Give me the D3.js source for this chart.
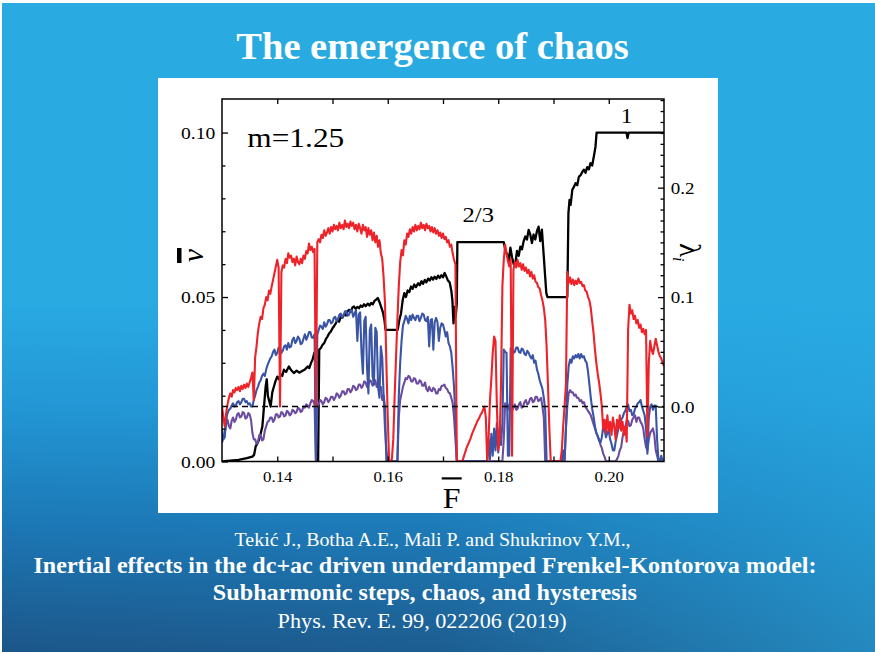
<!DOCTYPE html>
<html>
<head>
<meta charset="utf-8">
<script src="https://cdn.jsdelivr.net/npm/d3@7"></script>
<style>
  html, body { margin: 0; padding: 0; background: #fff; }
  svg { display: block; }
</style>
</head>
<body>
<svg id="slide" width="875" height="653"></svg>
<script>
// ---- data -------------------------------------------------------------
// Lyapunov exponents sampled on a uniform grid of the dc force F (0.130 … 0.210)
const F_START = 0.130;
const F_STEP = 0.00025;

const lambdaRed = [
  0.000, -0.010, -0.018, -0.006, 0.002, 0.008, 0.012, 0.009, 0.015, 0.013,
  0.017, 0.015, 0.018, 0.014, 0.019, 0.016, 0.020, 0.017, 0.021, 0.018,
  0.022, 0.026, 0.031, 0.006, 0.045, 0.055, 0.068, 0.076, 0.082, 0.080,
  0.090, 0.093, 0.100, 0.097, 0.106, 0.103, 0.110, 0.116, 0.122, 0.128,
  0.134, 0.127, 0.000, 0.123, 0.129, 0.127, 0.135, 0.131, 0.140, 0.136,
  0.138, 0.132, 0.135, 0.129, 0.137, 0.132, 0.130, 0.135, 0.131, 0.138,
  0.135, 0.142, 0.140, 0.149, 0.143, 0.146, 0.141, 0.144, 0.000, 0.150,
  0.153, 0.150, 0.157, 0.154, 0.161, 0.156, 0.159, 0.163, 0.158, 0.164,
  0.160, 0.166, 0.162, 0.165, 0.161, 0.168, 0.163, 0.166, 0.162, 0.170,
  0.164, 0.167, 0.163, 0.169, 0.165, 0.168, 0.162, 0.166, 0.160, 0.167,
  0.163, 0.158, 0.166, 0.161, 0.164, 0.155, 0.163, 0.157, 0.161, 0.152,
  0.159, 0.150, 0.156, 0.146, 0.152, 0.140, 0.135, 0.118, 0.095, 0.040,
  -0.010, -0.050, -0.050, -0.048, -0.030, 0.010, 0.045, 0.080, 0.110, 0.132,
  0.143, 0.138, 0.152, 0.148, 0.158, 0.155, 0.162, 0.158, 0.164, 0.160,
  0.166, 0.161, 0.165, 0.162, 0.168, 0.163, 0.166, 0.161, 0.167, 0.163,
  0.165, 0.160, 0.164, 0.159, 0.163, 0.158, 0.161, 0.156, 0.159, 0.154,
  0.158, 0.153, 0.155, 0.150, 0.152, 0.146, 0.148, 0.140, 0.134, 0.130,
  -0.050, -0.050, -0.050, -0.050, -0.050, -0.046, -0.042, -0.038, -0.035, -0.032,
  -0.029, -0.025, -0.022, -0.019, -0.016, -0.013, -0.011, -0.008, -0.006, -0.003,
  0.000, -0.010, -0.050, -0.030, 0.006, 0.025, 0.049, 0.064, 0.060, 0.000,
  -0.040, -0.030, 0.020, 0.110, 0.134, 0.148, 0.140, 0.133, 0.128, 0.135,
  -0.045, 0.125, 0.132, 0.127, 0.134, 0.128, 0.131, 0.125, 0.130, 0.124,
  0.127, 0.122, 0.125, 0.119, 0.123, 0.117, 0.120, 0.114, 0.113, 0.109,
  0.108, 0.102, 0.097, 0.090, 0.079, 0.055, 0.020, -0.020, -0.050, -0.050,
  -0.050, -0.050, -0.050, -0.050, -0.050, -0.050, -0.040, -0.018, 0.000, 0.020,
  0.123, 0.113, 0.118, 0.112, 0.116, 0.111, 0.115, 0.112, 0.117, 0.113,
  0.114, 0.110, 0.111, 0.106, 0.105, 0.100, 0.097, 0.090, 0.078, 0.067,
  0.052, 0.040, 0.030, 0.022, 0.012, 0.000, -0.021, -0.012, -0.024, -0.008,
  -0.022, -0.014, -0.026, -0.010, -0.018, -0.030, -0.012, -0.020, -0.008, -0.022,
  -0.014, -0.026, -0.018, -0.032, 0.070, 0.093, 0.085, 0.088, 0.080, 0.083,
  0.076, 0.079, 0.072, 0.075, 0.068, 0.071, 0.066, 0.070, -0.027, 0.040,
  0.060, 0.052, 0.048, 0.055, 0.062, 0.056, 0.050, 0.046, 0.044, 0.040,
  0.037
];

const lambdaBlue = [
  -0.020, -0.030, -0.028, -0.012, -0.006, -0.003, -0.002, 0.001, 0.003, 0.000,
  0.001, 0.004, 0.005, 0.002, 0.004, 0.007, 0.007, 0.004, 0.005, 0.002,
  0.003, 0.000, 0.000, 0.006, 0.010, 0.015, 0.018, 0.022, 0.024, 0.028,
  0.030, 0.028, 0.034, 0.038, 0.041, 0.044, 0.046, 0.050, 0.052, 0.047,
  0.049, 0.054, 0.053, 0.049, 0.051, 0.055, 0.056, 0.052, 0.058, 0.054,
  0.055, 0.061, 0.063, 0.058, 0.060, 0.064, 0.062, 0.057, 0.058, 0.062,
  0.066, 0.061, 0.064, 0.068, 0.068, 0.063, 0.063, 0.066, -0.049, 0.066,
  0.070, 0.074, 0.073, 0.071, 0.077, 0.073, 0.075, 0.079, 0.079, 0.076,
  0.077, 0.081, 0.082, 0.078, 0.080, 0.084, 0.085, 0.081, 0.083, 0.087,
  0.087, 0.083, 0.084, 0.088, 0.088, 0.082, 0.085, 0.088, 0.060, 0.084,
  0.086, 0.050, 0.030, 0.078, 0.082, 0.035, 0.012, 0.070, 0.075, 0.028,
  0.020, 0.072, 0.068, 0.018, 0.008, 0.055, 0.045, 0.010, 0.000, -0.050,
  -0.050, -0.050, -0.050, -0.050, -0.050, -0.050, -0.050, -0.050, 0.010, 0.040,
  0.060, 0.074, 0.078, 0.083, 0.080, 0.076, 0.083, 0.079, 0.084, 0.081,
  0.079, 0.083, 0.083, 0.078, 0.081, 0.085, 0.084, 0.079, 0.078, 0.082,
  0.055, 0.079, 0.080, 0.052, 0.077, 0.081, 0.077, 0.060, 0.072, 0.076,
  0.075, 0.070, 0.064, 0.068, 0.058, 0.055, 0.049, 0.035, 0.018, -0.010,
  -0.050, -0.050, -0.050, -0.050, -0.050, -0.050, -0.050, -0.050, -0.050, -0.050,
  -0.050, -0.050, -0.050, -0.050, -0.050, -0.050, -0.050, -0.050, -0.050, -0.050,
  -0.050, -0.050, -0.050, -0.030, -0.048, -0.025, -0.045, -0.020, -0.040, -0.015,
  -0.042, -0.020, -0.035, -0.015, 0.052, 0.050, 0.049, -0.045, -0.045, 0.053,
  0.053, 0.049, 0.050, 0.054, 0.054, 0.050, 0.049, 0.053, 0.052, 0.048,
  0.047, 0.051, 0.049, 0.046, 0.044, 0.047, 0.040, 0.042, 0.034, 0.030,
  0.024, 0.020, 0.016, 0.008, -0.003, -0.050, -0.050, -0.050, -0.050, -0.050,
  -0.050, -0.050, -0.050, -0.050, -0.050, -0.050, -0.050, -0.040, -0.050, -0.020,
  0.020, 0.037, 0.043, 0.040, 0.046, 0.044, 0.047, 0.045, 0.048, 0.044,
  0.048, 0.045, 0.046, 0.042, 0.040, 0.032, 0.020, 0.008, -0.002, -0.009,
  -0.018, -0.024, -0.027, -0.031, -0.033, -0.028, -0.018, -0.022, -0.028, -0.024,
  -0.022, -0.030, -0.034, -0.040, -0.040, -0.032, -0.026, -0.020, -0.018, -0.012,
  -0.010, -0.006, -0.004, 0.000, 0.002, -0.004, -0.003, -0.008, -0.007, -0.002,
  0.000, 0.003, 0.004, 0.006, 0.000, -0.004, -0.008, -0.020, -0.043, -0.010,
  0.000, 0.002, -0.003, 0.001, 0.001, -0.030, -0.050, -0.050, -0.045, -0.050,
  -0.050
];

const lambdaPurple = [
  -0.033, -0.028, -0.024, -0.016, -0.012, -0.018, -0.020, -0.013, -0.010, -0.014,
  -0.012, -0.007, -0.006, -0.010, -0.009, -0.005, -0.006, -0.011, -0.010, -0.006,
  -0.007, -0.012, -0.024, -0.030, -0.030, -0.034, -0.033, -0.026, -0.026, -0.031,
  -0.030, -0.022, -0.018, -0.014, -0.013, -0.010, -0.010, -0.014, -0.012, -0.007,
  -0.007, -0.010, -0.009, -0.005, -0.006, -0.009, -0.008, -0.004, -0.005, -0.008,
  -0.007, -0.003, -0.004, -0.006, -0.005, -0.001, -0.002, -0.005, -0.004, 0.000,
  -0.001, 0.002, 0.001, -0.001, 0.003, 0.006, 0.005, 0.002, -0.050, 0.001,
  0.002, 0.006, 0.005, 0.002, 0.004, 0.008, 0.007, 0.004, 0.006, 0.009,
  0.009, 0.006, 0.008, 0.012, 0.011, 0.008, 0.010, 0.014, 0.014, 0.011,
  0.012, 0.016, 0.016, 0.013, 0.015, 0.019, 0.018, 0.015, 0.016, 0.020,
  0.020, 0.017, 0.019, 0.023, 0.022, 0.018, 0.020, 0.024, 0.023, 0.019,
  0.021, 0.024, 0.018, 0.021, 0.016, 0.018, 0.006, 0.010, -0.020, -0.040,
  -0.050, -0.050, -0.050, -0.050, -0.050, -0.050, -0.050, -0.050, -0.010, 0.006,
  0.012, 0.018, 0.022, 0.026, 0.025, 0.028, 0.027, 0.023, 0.023, 0.026,
  0.025, 0.021, 0.021, 0.024, 0.023, 0.019, 0.019, 0.022, 0.016, 0.014,
  0.018, 0.015, 0.014, 0.017, 0.016, 0.012, 0.012, 0.016, 0.015, 0.019,
  0.019, 0.020, 0.017, 0.016, 0.013, 0.012, 0.008, 0.003, -0.010, -0.030,
  -0.050, -0.050, -0.050, -0.050, -0.050, -0.050, -0.050, -0.050, -0.050, -0.050,
  -0.050, -0.050, -0.050, -0.050, -0.050, -0.050, -0.050, -0.050, -0.050, -0.050,
  -0.050, -0.050, -0.050, -0.050, -0.050, -0.050, -0.050, -0.050, -0.050, -0.050,
  -0.050, -0.050, -0.050, -0.050, -0.030, 0.003, 0.000, -0.003, 0.002, 0.001,
  -0.004, -0.001, 0.002, -0.003, -0.002, 0.002, 0.004, -0.001, 0.000, 0.004,
  0.006, 0.002, 0.003, 0.007, 0.008, 0.004, 0.005, 0.009, 0.009, 0.005,
  0.006, 0.008, 0.000, -0.010, -0.050, -0.050, -0.050, -0.050, -0.050, -0.050,
  -0.050, -0.050, -0.050, -0.050, -0.050, -0.050, -0.050, -0.050, -0.050, -0.020,
  0.000, 0.012, 0.015, 0.013, 0.013, 0.010, 0.011, 0.008, 0.008, 0.005,
  0.006, 0.003, 0.004, 0.000, -0.002, -0.004, -0.006, -0.008, -0.012, -0.016,
  -0.020, -0.024, -0.027, -0.030, -0.035, -0.038, -0.043, -0.046, -0.050, -0.050,
  -0.050, -0.050, -0.050, -0.050, -0.050, -0.050, -0.048, -0.045, -0.040, -0.037,
  -0.028, -0.022, -0.020, -0.012, -0.013, -0.018, -0.017, -0.012, -0.010, -0.008,
  -0.014, -0.010, -0.010, -0.014, -0.016, -0.020, -0.030, -0.037, -0.040, -0.030,
  -0.024, -0.022, -0.020, -0.026, -0.040, -0.045, -0.050, -0.050, -0.050, -0.050,
  -0.050
];

// mean velocity v̄ against F (steps 2/5, 2/3, 1/2 and 1)
const velF = [
  0.1300, 0.1330, 0.1345, 0.1355, 0.1358, 0.1361, 0.1364, 0.1367, 0.1370, 0.1373,
  0.1376, 0.1379, 0.1381, 0.1383, 0.1386, 0.1388, 0.1391, 0.1394, 0.1397, 0.1400,
  0.1403, 0.1406, 0.1409, 0.1412, 0.1416, 0.1421, 0.1425, 0.1430, 0.1435, 0.1440,
  0.1445, 0.1450, 0.1455, 0.1458, 0.1461, 0.1464, 0.1467, 0.1469, 0.1471, 0.1474,
  0.1476, 0.1479, 0.1482, 0.1485, 0.1488, 0.1491, 0.1494, 0.1497, 0.1500, 0.1503,
  0.1506, 0.1509, 0.1512, 0.1515, 0.1518, 0.1521, 0.1524, 0.1527, 0.1530, 0.1533,
  0.1536, 0.1539, 0.1542, 0.1545, 0.1548, 0.1551, 0.1554, 0.1557, 0.1560, 0.1564,
  0.1567, 0.1570, 0.1573, 0.1576, 0.1579, 0.1582, 0.1585, 0.1588, 0.1591, 0.1594,
  0.1596, 0.1618, 0.1621, 0.1624, 0.1627, 0.1630, 0.1633, 0.1636, 0.1639, 0.1642,
  0.1645, 0.1648, 0.1651, 0.1655, 0.1658, 0.1661, 0.1664, 0.1667, 0.1670, 0.1673,
  0.1676, 0.1679, 0.1682, 0.1685, 0.1688, 0.1691, 0.1694, 0.1697, 0.1700, 0.1703,
  0.1706, 0.1709, 0.1712, 0.1715, 0.1717, 0.1719, 0.1721, 0.1723, 0.1725, 0.1726,
  0.1810, 0.1813, 0.1816, 0.1819, 0.1822, 0.1825, 0.1828, 0.1831, 0.1834, 0.1837,
  0.1840, 0.1843, 0.1846, 0.1849, 0.1852, 0.1855, 0.1858, 0.1861, 0.1864, 0.1867,
  0.1870, 0.1873, 0.1876, 0.1879, 0.1882, 0.1885, 0.1887, 0.1889, 0.1925, 0.1927,
  0.1929, 0.1931, 0.1934, 0.1937, 0.1940, 0.1943, 0.1946, 0.1949, 0.1952, 0.1955,
  0.1958, 0.1961, 0.1964, 0.1967, 0.1970, 0.1973, 0.1976, 0.1978, 0.2032, 0.2034,
  0.2036, 0.2100
];
const velV = [
  0.0000, 0.0005, 0.0010, 0.0015, 0.0020, 0.0046, 0.0055, 0.0066, 0.0085, 0.0106,
  0.0167, 0.0228, 0.0250, 0.0200, 0.0180, 0.0167, 0.0210, 0.0228, 0.0245, 0.0258,
  0.0250, 0.0265, 0.0260, 0.0279, 0.0272, 0.0289, 0.0278, 0.0269, 0.0276, 0.0270,
  0.0275, 0.0280, 0.0289, 0.0284, 0.0299, 0.0310, 0.0330, 0.0320, 0.0000, 0.0000,
  0.0340, 0.0345, 0.0355, 0.0360, 0.0372, 0.0380, 0.0390, 0.0395, 0.0405, 0.0412,
  0.0420, 0.0430, 0.0425, 0.0440, 0.0437, 0.0448, 0.0444, 0.0456, 0.0461, 0.0455,
  0.0468, 0.0471, 0.0464, 0.0470, 0.0466, 0.0474, 0.0470, 0.0478, 0.0472, 0.0480,
  0.0474, 0.0482, 0.0478, 0.0488, 0.0492, 0.0497, 0.0485, 0.0470, 0.0455, 0.0430,
  0.0400, 0.0400, 0.0430, 0.0450, 0.0490, 0.0512, 0.0500, 0.0520, 0.0515, 0.0532,
  0.0525, 0.0538, 0.0530, 0.0542, 0.0536, 0.0548, 0.0540, 0.0552, 0.0545, 0.0556,
  0.0550, 0.0560, 0.0553, 0.0562, 0.0555, 0.0565, 0.0558, 0.0566, 0.0560, 0.0573,
  0.0562, 0.0550, 0.0545, 0.0520, 0.0490, 0.0420, 0.0470, 0.0440, 0.0480, 0.0667,
  0.0667, 0.0640, 0.0630, 0.0610, 0.0650, 0.0620, 0.0600, 0.0603, 0.0640, 0.0625,
  0.0653, 0.0645, 0.0670, 0.0684, 0.0675, 0.0704, 0.0690, 0.0664, 0.0690, 0.0675,
  0.0700, 0.0714, 0.0670, 0.0705, 0.0633, 0.0560, 0.0512, 0.0500, 0.0500, 0.0755,
  0.0795, 0.0780, 0.0826, 0.0835, 0.0846, 0.0840, 0.0866, 0.0870, 0.0880, 0.0887,
  0.0878, 0.0895, 0.0888, 0.0907, 0.0900, 0.0927, 0.0957, 0.1000, 0.1000, 0.0983,
  0.1000, 0.1000
];

// axis ticks
const xTickLabels = [0.14, 0.16, 0.18, 0.20];
const xTicksAll = [0.14, 0.15, 0.16, 0.17, 0.18, 0.19, 0.20];
const vTickLabels = [0.00, 0.05, 0.10];
const vTicksMinor = [0.01, 0.02, 0.03, 0.04, 0.06, 0.07, 0.08, 0.09];
const lTickLabels = [0.0, 0.1, 0.2];
const lTicksMinor = [-0.04, -0.03, -0.02, -0.01, 0.01, 0.02, 0.03, 0.04, 0.05, 0.06, 0.07, 0.08, 0.09,
  0.11, 0.12, 0.13, 0.14, 0.15, 0.16, 0.17, 0.18, 0.19, 0.21, 0.22, 0.23, 0.24, 0.25, 0.26, 0.27, 0.28];

// ---- drawing ----------------------------------------------------------
const SERIF = "'Liberation Serif', 'Times New Roman', Times, serif";
const svg = d3.select("#slide");
const defs = svg.append("defs");

// slide background
const bg = defs.append("linearGradient").attr("id", "bgVert")
  .attr("x1", 0).attr("y1", 0).attr("x2", 0).attr("y2", 1);
[[0, "#29abe2"], [0.45, "#29abe2"], [0.62, "#2397d5"], [0.80, "#1c78b6"], [1, "#1c5689"]]
  .forEach(([o, c]) => bg.append("stop").attr("offset", o).attr("stop-color", c));
const sheen = defs.append("linearGradient").attr("id", "bgSheen")
  .attr("x1", 0).attr("y1", 0).attr("x2", 1).attr("y2", 0);
[[0, 0], [0.5, 0.08], [1, 0.6]]
  .forEach(([o, a]) => sheen.append("stop").attr("offset", o)
    .attr("stop-color", "#29abe2").attr("stop-opacity", a));

svg.append("rect").attr("x", 2).attr("y", 3).attr("width", 873).attr("height", 649)
  .attr("fill", "url(#bgVert)");
svg.append("rect").attr("x", 2).attr("y", 300).attr("width", 873).attr("height", 352)
  .attr("fill", "url(#bgSheen)");

// title
svg.append("text").attr("x", 432.5).attr("y", 59).attr("text-anchor", "middle")
  .attr("font-family", SERIF).attr("font-weight", "bold").attr("font-size", 38.5)
  .attr("fill", "#fff").text("The emergence of chaos");

// citation
const cite = [
  { t: "Tekić J., Botha A.E., Mali P. and Shukrinov Y.M.,", x: 234.6, y: 546, s: 19.5, w: "normal", len: 396 },
  { t: "Inertial effects in the dc+ac driven underdamped Frenkel-Kontorova model:", x: 33.5, y: 573, s: 23, w: "bold", len: 783 },
  { t: "Subharmonic steps, chaos, and hysteresis", x: 212.8, y: 600, s: 23, w: "bold", len: 424 },
  { t: "Phys. Rev. E. 99, 022206 (2019)", x: 277.6, y: 628, s: 22, w: "normal", len: 289 }
];
svg.selectAll("text.cite").data(cite).join("text").attr("class", "cite")
  .attr("x", d => d.x).attr("y", d => d.y)
  .attr("font-family", SERIF).attr("font-size", d => d.s).attr("font-weight", d => d.w)
  .attr("textLength", d => d.len).attr("lengthAdjust", "spacingAndGlyphs")
  .attr("fill", "#fff").text(d => d.t);

// chart panel
svg.append("rect").attr("x", 158).attr("y", 78).attr("width", 560).attr("height", 435).attr("fill", "#fff");

const plot = { left: 222, right: 664, top: 99, bottom: 461.5 };
const x = d3.scaleLinear().domain([0.13, 0.21]).range([plot.left, plot.right]);
const yV = d3.scaleLinear().domain([0, 0.1102]).range([plot.bottom, plot.top]);
const yL = d3.scaleLinear().domain([-0.0502, 0.281]).range([plot.bottom, plot.top]);

defs.append("clipPath").attr("id", "plotClip").append("rect")
  .attr("x", plot.left).attr("y", plot.top)
  .attr("width", plot.right - plot.left).attr("height", plot.bottom - plot.top);

const lines = svg.append("g").attr("clip-path", "url(#plotClip)");
const lamLine = d3.line().x((d, i) => x(F_START + i * F_STEP)).y(d => yL(d));
const velLine = d3.line().x(d => x(d[0])).y(d => yV(d[1]));

lines.append("path").datum(d3.zip(velF, velV)).attr("d", velLine)
  .attr("fill", "none").attr("stroke", "#000").attr("stroke-width", 2.3).attr("stroke-linejoin", "round");
lines.append("path").datum(lambdaPurple).attr("d", lamLine)
  .attr("fill", "none").attr("stroke", "#6b4c9f").attr("stroke-width", 2.1).attr("stroke-linejoin", "round");
lines.append("path").datum(lambdaBlue).attr("d", lamLine)
  .attr("fill", "none").attr("stroke", "#3a55a5").attr("stroke-width", 2.1).attr("stroke-linejoin", "round");
lines.append("path").datum(lambdaRed).attr("d", lamLine)
  .attr("fill", "none").attr("stroke", "#ee2229").attr("stroke-width", 2.1).attr("stroke-linejoin", "round");

// λ = 0 reference
lines.append("line").attr("x1", plot.left).attr("x2", plot.right)
  .attr("y1", yL(0)).attr("y2", yL(0))
  .attr("stroke", "#000").attr("stroke-width", 1.6).attr("stroke-dasharray", "6,4");

// axes
const styleAxis = (g, size) => {
  g.select(".domain").remove();
  g.selectAll(".tick line").attr("stroke", "#000").attr("stroke-width", 1.3);
  g.selectAll(".tick text").attr("font-family", SERIF).attr("font-size", size)
    .attr("fill", "#000").attr("transform", "scale(1.12,1)");
};

svg.append("g").attr("transform", `translate(${plot.left},0)`)
  .call(d3.axisLeft(yV).tickValues(vTickLabels).tickFormat(d3.format(".2f"))
    .tickSizeInner(-6).tickSizeOuter(0).tickPadding(6))
  .call(g => styleAxis(g, 17.5));
svg.append("g").attr("transform", `translate(${plot.left},0)`)
  .call(d3.axisLeft(yV).tickValues(vTicksMinor).tickFormat("").tickSizeInner(-3.5).tickSizeOuter(0))
  .call(g => styleAxis(g, 0));

svg.append("g").attr("transform", `translate(${plot.right},0)`)
  .call(d3.axisRight(yL).tickValues(lTickLabels).tickFormat(d3.format(".1f"))
    .tickSizeInner(-6).tickSizeOuter(0).tickPadding(6))
  .call(g => styleAxis(g, 17));
svg.append("g").attr("transform", `translate(${plot.right},0)`)
  .call(d3.axisRight(yL).tickValues(lTicksMinor).tickFormat("").tickSizeInner(-3.5).tickSizeOuter(0))
  .call(g => styleAxis(g, 0));

svg.append("g").attr("transform", `translate(0,${plot.bottom})`)
  .call(d3.axisBottom(x).tickValues(xTicksAll).tickFormat(d => xTickLabels.some(v => Math.abs(v - d) < 1e-9) ? d3.format(".2f")(d) : "")
    .tickSizeInner(-5).tickSizeOuter(0).tickPadding(10))
  .call(g => styleAxis(g, 15));
svg.append("g").attr("transform", `translate(0,${plot.top})`)
  .call(d3.axisTop(x).tickValues(xTicksAll).tickFormat("").tickSizeInner(-5).tickSizeOuter(0))
  .call(g => styleAxis(g, 0));

// frame
svg.append("rect").attr("x", plot.left).attr("y", plot.top)
  .attr("width", plot.right - plot.left).attr("height", plot.bottom - plot.top)
  .attr("fill", "none").attr("stroke", "#000").attr("stroke-width", 1.5);

// annotations
const note = (txt, xx, yy, size, anchor) =>
  svg.append("text").attr("transform", `translate(${xx},${yy}) scale(1.12,1)`)
    .attr("text-anchor", anchor).attr("font-family", SERIF).attr("font-size", size)
    .attr("fill", "#000").text(txt);
note("m=1.25", 247.3, 146.7, 28, "start");
note("2/3", 478.3, 221.5, 22, "middle");
note("1", 626.5, 122.7, 21, "middle");

// axis titles: v̄ (left), λi (right), F̄ (bottom)
svg.append("text").attr("transform", "translate(203,255.5) rotate(-90)")
  .attr("text-anchor", "middle").attr("font-family", SERIF).attr("font-style", "italic")
  .attr("font-size", 30).attr("fill", "#000").text("v");
svg.append("rect").attr("x", 177).attr("y", 248).attr("width", 4.5).attr("height", 15).attr("fill", "#000");

const lam = svg.append("text").attr("transform", "translate(680,243) rotate(90)")
  .attr("font-family", SERIF).attr("font-size", 29).attr("fill", "#000");
lam.append("tspan").text("λ");
lam.append("tspan").attr("font-size", 16).attr("font-style", "italic").attr("dy", 7).text("i");

svg.append("text").attr("transform", "translate(451.5,508) scale(1.12,1)")
  .attr("text-anchor", "middle").attr("font-family", SERIF).attr("font-size", 28.5)
  .attr("fill", "#000").text("F");
svg.append("rect").attr("x", 441.7).attr("y", 477.3).attr("width", 20).attr("height", 2.2).attr("fill", "#000");
</script>
</body>
</html>
